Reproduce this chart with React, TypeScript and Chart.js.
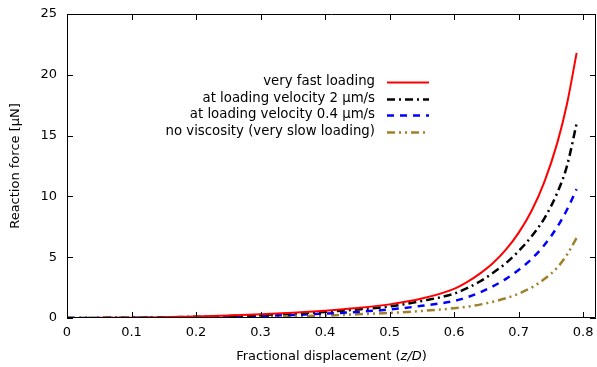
import React, { useEffect, useRef } from "react";
import { Chart, registerables } from "chart.js";

Chart.register(...registerables);

const X_VALUES = [0, 0.05, 0.1, 0.15, 0.2, 0.25, 0.3, 0.35, 0.4, 0.45, 0.5, 0.55, 0.6, 0.62, 0.64, 0.66, 0.68, 0.7, 0.72, 0.74, 0.76, 0.775, 0.79];
const VERY_FAST = [0, 0.01, 0.03, 0.07, 0.12, 0.2, 0.3, 0.43, 0.6, 0.82, 1.12, 1.6, 2.4, 2.95, 3.65, 4.5, 5.6, 7.0, 8.8, 11.2, 14.4, 17.6, 21.8];
const VEL_2 = [0, 0.01, 0.02, 0.05, 0.1, 0.16, 0.25, 0.36, 0.5, 0.7, 0.95, 1.4, 2.0, 2.45, 3.0, 3.7, 4.5, 5.5, 6.7, 8.2, 10.3, 12.5, 16.0];
const VEL_04 = [0, 0.005, 0.01, 0.03, 0.06, 0.1, 0.16, 0.25, 0.36, 0.5, 0.7, 1.0, 1.4, 1.7, 2.1, 2.6, 3.2, 3.95, 4.85, 6.0, 7.5, 8.9, 10.6];
const NO_VISC = [0, 0.002, 0.005, 0.015, 0.03, 0.055, 0.09, 0.14, 0.2, 0.3, 0.42, 0.58, 0.8, 0.93, 1.1, 1.33, 1.62, 2.0, 2.5, 3.2, 4.15, 5.2, 6.6];

const SERIES_LABELS = [
  "very fast loading",
  "at loading velocity 2 \u00b5m/s",
  "at loading velocity 0.4 \u00b5m/s",
  "no viscosity (very slow loading)",
];
const X_TICKS = [0, 0.1, 0.2, 0.3, 0.4, 0.5, 0.6, 0.7, 0.8];
const Y_TICKS = [0, 5, 10, 15, 20, 25];

const FONT = "DejaVu Sans";
const FS = 13;

const framePlugin = {
  id: "frame",
  afterDraw(chart: any) {
    const { ctx, chartArea: a, scales } = chart;
    ctx.save();
    ctx.strokeStyle = "#000";
    ctx.lineWidth = 1;
    ctx.beginPath();
    ctx.rect(a.left + 0.5, a.top + 0.5, a.right - a.left - 1, a.bottom - a.top - 1);
    ctx.stroke();
    const tl = 6;
    ctx.beginPath();
    for (const t of X_TICKS) {
      const x = Math.round(scales.x.getPixelForValue(t)) + 0.5;
      ctx.moveTo(x, a.bottom);
      ctx.lineTo(x, a.bottom - tl);
      ctx.moveTo(x, a.top);
      ctx.lineTo(x, a.top + tl);
    }
    for (const t of Y_TICKS) {
      const y = Math.round(scales.y.getPixelForValue(t)) + 0.5;
      ctx.moveTo(a.left, y);
      ctx.lineTo(a.left + tl, y);
      ctx.moveTo(a.right, y);
      ctx.lineTo(a.right - tl, y);
    }
    ctx.stroke();

    // axis titles
    ctx.fillStyle = "#000";
    ctx.textBaseline = "middle";
    const reg = `${FS}px "${FONT}"`;
    const ita = `italic ${FS}px "${FONT}"`;
    const cx = (a.left + a.right) / 2;
    const p1 = "Fractional displacement (";
    const p2 = "z/D";
    const p3 = ")";
    ctx.font = reg;
    const w1 = ctx.measureText(p1).width;
    const w3 = ctx.measureText(p3).width;
    ctx.font = ita;
    const w2 = ctx.measureText(p2).width;
    let sx = cx - (w1 + w2 + w3) / 2;
    const ty = 357;
    ctx.textAlign = "left";
    ctx.font = reg;
    ctx.fillText(p1, sx, ty);
    sx += w1;
    ctx.font = ita;
    ctx.fillText(p2, sx, ty);
    sx += w2;
    ctx.font = reg;
    ctx.fillText(p3, sx, ty);

    ctx.save();
    ctx.translate(16, (a.top + a.bottom) / 2);
    ctx.rotate(-Math.PI / 2);
    ctx.textAlign = "center";
    ctx.fillText("Reaction force [\u00b5N]", 0, 0);
    ctx.restore();

    // legend
    const rows = [82, 99, 115, 132];
    chart.data.datasets.forEach((ds: any, i: number) => {
      const y = rows[i];
      ctx.font = `13.3px "${FONT}"`;
      ctx.textAlign = "right";
      ctx.fillStyle = "#000";
      ctx.fillText(ds.label, 375, y);
      ctx.beginPath();
      ctx.strokeStyle = ds.borderColor;
      ctx.lineWidth = ds.borderWidth;
      ctx.setLineDash(ds.borderDash || []);
      ctx.moveTo(387, y + 0.5);
      ctx.lineTo(429, y + 0.5);
      ctx.stroke();
      ctx.setLineDash([]);
    });
    ctx.restore();
  },
};

export default function App() {
  const ref = useRef<HTMLCanvasElement>(null);
  useEffect(() => {
    document.body.style.margin = "0";
    const mk = (ys: number[]) => X_VALUES.map((x, i) => ({ x, y: ys[i] }));
    const chart = new Chart(ref.current!, {
      type: "line",
      data: {
        datasets: [
          { label: SERIES_LABELS[0], data: mk(VERY_FAST), borderColor: "#ff0000", borderWidth: 2, borderDash: [] },
          { label: SERIES_LABELS[1], data: mk(VEL_2), borderColor: "#000000", borderWidth: 2.5, borderDash: [8, 4, 2, 4] },
          { label: SERIES_LABELS[2], data: mk(VEL_04), borderColor: "#0000ff", borderWidth: 2.5, borderDash: [7, 6] },
          { label: SERIES_LABELS[3], data: mk(NO_VISC), borderColor: "#a08028", borderWidth: 2.5, borderDash: [8, 4, 2, 4, 2, 4] },
        ] as any,
      },
      options: {
        animation: false,
        responsive: false,
        maintainAspectRatio: false,
        layout: { padding: { top: 14, right: 1, left: 0, bottom: 0 } },
        elements: { point: { radius: 0 }, line: { cubicInterpolationMode: "monotone", fill: false } },
        plugins: { legend: { display: false }, tooltip: { enabled: false } },
        scales: {
          x: {
            type: "linear",
            min: 0,
            max: 0.82,
            grid: { display: false, drawTicks: false },
            border: { display: false },
            afterBuildTicks: (s: any) => {
              s.ticks = X_TICKS.map((v) => ({ value: v }));
            },
            afterFit: (s: any) => {
              s.height = 49;
              s.paddingLeft = 0;
              s.paddingRight = 0;
            },
            ticks: {
              autoSkip: false,
              maxRotation: 0,
              padding: 7,
              color: "#000",
              font: { family: FONT, size: FS },
              callback: (v: any) => String(Number(Number(v).toFixed(1))),
            },
          },
          y: {
            type: "linear",
            min: 0,
            max: 25,
            grid: { display: false, drawTicks: false },
            border: { display: false },
            afterBuildTicks: (s: any) => {
              s.ticks = Y_TICKS.map((v) => ({ value: v }));
            },
            afterFit: (s: any) => {
              s.width = 67;
              s.paddingTop = 0;
              s.paddingBottom = 0;
            },
            ticks: {
              padding: 10,
              color: "#000",
              font: { family: FONT, size: FS },
              callback: (v: any) => String(v),
            },
          },
        },
      },
      plugins: [framePlugin],
    });
    return () => chart.destroy();
  }, []);
  return <canvas ref={ref} width={597} height={367} style={{ display: "block" }} />;
}
